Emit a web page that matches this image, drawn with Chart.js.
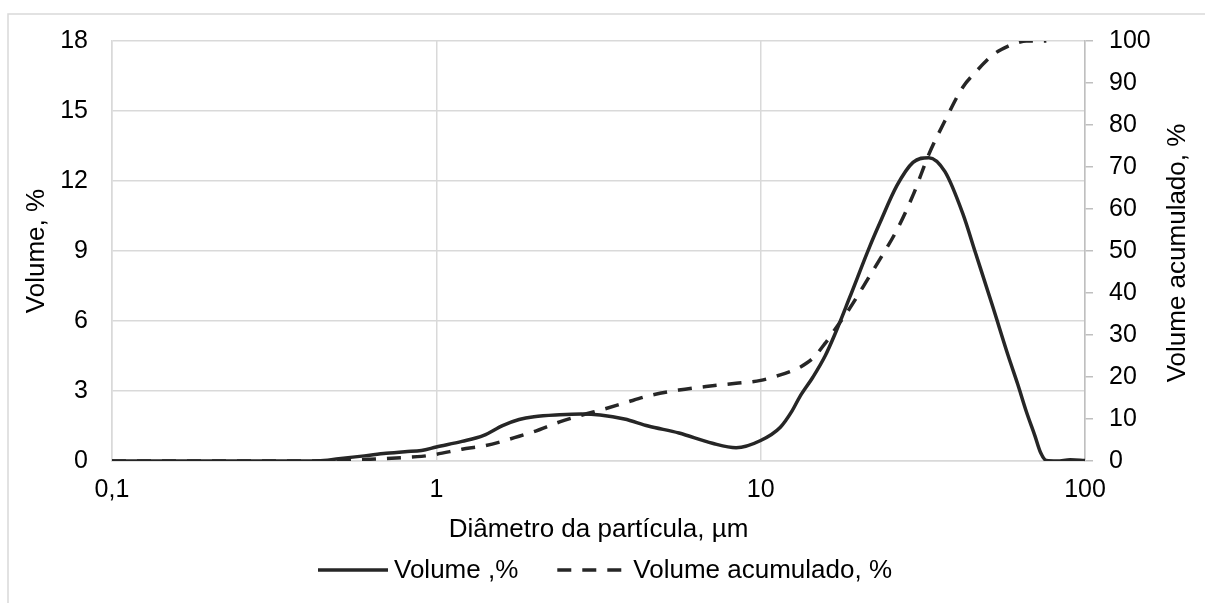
<!DOCTYPE html>
<html>
<head>
<meta charset="utf-8">
<script src="https://cdn.jsdelivr.net/npm/chart.js@4/dist/chart.umd.min.js"></script>
<style>
  html, body { margin: 0; padding: 0; background: #fff; }
  #wrap { width: 1205px; height: 603px; }
</style>
</head>
<body>
<div id="wrap"><canvas id="c" width="1205" height="603"></canvas></div>
<script>
// Particle size distribution: differential and cumulative volume
const diameters = [0.1, 0.2, 0.3, 0.4, 0.45, 0.5, 0.6, 0.7, 0.8, 0.9, 1.0, 1.2, 1.4, 1.6, 1.8, 2.0, 2.4, 2.8, 3.2, 3.8, 4.5, 5.6, 7.1, 8.4, 10, 11.5, 12.5, 13.2, 14.5, 15.8, 16.9, 18.8, 21.7, 23.3, 26.3, 29.5, 33, 37, 42, 46, 52, 58, 62, 66, 70, 73, 76, 82, 90, 100];
const volume = [0, 0, 0, 0, 0.02, 0.1, 0.22, 0.33, 0.4, 0.45, 0.6, 0.84, 1.1, 1.52, 1.78, 1.9, 1.98, 2.01, 1.97, 1.8, 1.5, 1.2, 0.76, 0.57, 0.88, 1.45, 2.15, 2.75, 3.6, 4.5, 5.4, 7.0, 9.2, 10.2, 11.8, 12.8, 13.0, 12.4, 10.6, 8.9, 6.6, 4.5, 3.3, 2.1, 1.1, 0.35, 0.02, 0, 0.05, 0.02];
const cumulative = [0, 0, 0, 0, 0, 0.1, 0.35, 0.6, 0.85, 1.1, 1.6, 2.8, 3.6, 4.7, 5.9, 7.0, 9.3, 10.9, 12.1, 13.8, 15.5, 16.9, 17.9, 18.5, 19.2, 20.5, 21.5, 22.3, 24.5, 28, 31.2, 36.3, 44.1, 48.0, 55.0, 63.3, 73, 81, 89, 92.6, 96.7, 98.8, 99.6, 100, 100, 100, 100, null, null, null];

const xTickValues = [0.1, 1, 10, 100];
const xTickLabels = ['0,1', '1', '10', '100'];

const seriesNames = ['Volume ,%', 'Volume acumulado, %'];
const xTitle = 'Diâmetro da partícula, µm';
const yTitle = 'Volume, %';
const y2Title = 'Volume acumulado, %';

const INK = '#262626';
const GRID = '#d9d9d9';
const FONT = '"Liberation Sans", Arial, sans-serif';

function points(ys) {
  return diameters.map((d, i) => ({ x: d, y: ys[i] }));
}

// outer frame of the chart object
const framePlugin = {
  id: 'frame',
  beforeDraw(chart) {
    const ctx = chart.ctx;
    ctx.save();
    ctx.strokeStyle = GRID;
    ctx.lineWidth = 1.5;
    ctx.beginPath();
    ctx.moveTo(8, 603);
    ctx.lineTo(8, 14);
    ctx.lineTo(1205, 14);
    ctx.stroke();
    ctx.restore();
  }
};

// right-hand axis title, read bottom to top
const rightTitlePlugin = {
  id: 'rightTitle',
  afterDraw(chart) {
    const s = chart.scales.y2;
    const ctx = chart.ctx;
    ctx.save();
    ctx.translate(1178, (s.top + s.bottom) / 2 + 2);
    ctx.rotate(-Math.PI / 2);
    ctx.font = '26px ' + FONT;
    ctx.fillStyle = '#000';
    ctx.textAlign = 'center';
    ctx.textBaseline = 'middle';
    ctx.fillText(y2Title, 0, 0);
    ctx.restore();
  }
};

// legend below the axis title
const legendPlugin = {
  id: 'lineLegend',
  afterDraw(chart) {
    const ctx = chart.ctx;
    const ds = chart.data.datasets;
    const sample = 70, gap = 6, spacing = 39, y = 570;
    ctx.save();
    ctx.font = '26px ' + FONT;
    const widths = ds.map(d => ctx.measureText(d.label).width);
    let total = 0;
    ds.forEach((d, i) => { total += sample + gap + widths[i] + (i ? spacing : 0); });
    let x = 605 - total / 2;
    ds.forEach((d, i) => {
      if (i) x += spacing;
      ctx.strokeStyle = d.borderColor;
      ctx.lineWidth = d.borderWidth;
      ctx.setLineDash(d.borderDash || []);
      ctx.lineCap = 'butt';
      ctx.beginPath();
      ctx.moveTo(x, y);
      ctx.lineTo(x + sample, y);
      ctx.stroke();
      ctx.setLineDash([]);
      x += sample + gap;
      ctx.fillStyle = '#000';
      ctx.textAlign = 'left';
      ctx.textBaseline = 'middle';
      ctx.fillText(d.label, x, y + 1);
      x += widths[i];
    });
    ctx.restore();
  }
};

new Chart(document.getElementById('c'), {
  type: 'line',
  data: {
    datasets: [
      {
        label: seriesNames[0],
        data: points(volume),
        yAxisID: 'y',
        borderColor: INK,
        borderWidth: 3.5,
        pointRadius: 0,
        cubicInterpolationMode: 'monotone',
        fill: false
      },
      {
        label: seriesNames[1],
        data: points(cumulative),
        yAxisID: 'y2',
        borderColor: INK,
        borderWidth: 3.5,
        borderDash: [14, 11],
        pointRadius: 0,
        cubicInterpolationMode: 'monotone',
        fill: false
      }
    ]
  },
  options: {
    responsive: false,
    animation: false,
    devicePixelRatio: 1,
    layout: { padding: { left: 0, right: 0, top: 41, bottom: 0 } },
    plugins: { legend: { display: false }, tooltip: { enabled: false } },
    scales: {
      x: {
        type: 'logarithmic',
        min: 0.1,
        max: 100,
        afterBuildTicks(scale) { scale.ticks = xTickValues.map(v => ({ value: v, major: true })); },
        afterFit(scale) { scale.height = 142; },
        ticks: {
          callback(value) { const i = xTickValues.indexOf(value); return i >= 0 ? xTickLabels[i] : ''; },
          font: { family: FONT, size: 25 },
          color: '#000',
          padding: 14,
          maxRotation: 0,
          autoSkip: false
        },
        grid: { color: GRID, lineWidth: 1.5, drawTicks: false },
        border: { color: GRID, width: 1.5 },
        title: { display: true, text: xTitle, font: { family: FONT, size: 26 }, color: '#000', padding: { top: 0, bottom: 58 } }
      },
      y: {
        position: 'left',
        min: 0,
        max: 18,
        ticks: { stepSize: 3, font: { family: FONT, size: 25 }, color: '#000', padding: 24 },
        afterFit(scale) { scale.width = 112; },
        grid: { color: GRID, lineWidth: 1.5, drawTicks: false },
        border: { color: GRID, width: 1.5 },
        title: { display: true, text: yTitle, font: { family: FONT, size: 26 }, color: '#000', padding: { top: 21, bottom: 0 } }
      },
      y2: {
        position: 'right',
        min: 0,
        max: 100,
        ticks: { stepSize: 10, font: { family: FONT, size: 25 }, color: '#000', padding: 16 },
        afterFit(scale) { scale.width = 120; },
        grid: { drawOnChartArea: false, drawTicks: true, tickLength: 8, color: '#bfbfbf', lineWidth: 1.5 },
        border: { color: '#bfbfbf', width: 1.5 }
      }
    }
  },
  plugins: [framePlugin, rightTitlePlugin, legendPlugin]
});
</script>
</body>
</html>
